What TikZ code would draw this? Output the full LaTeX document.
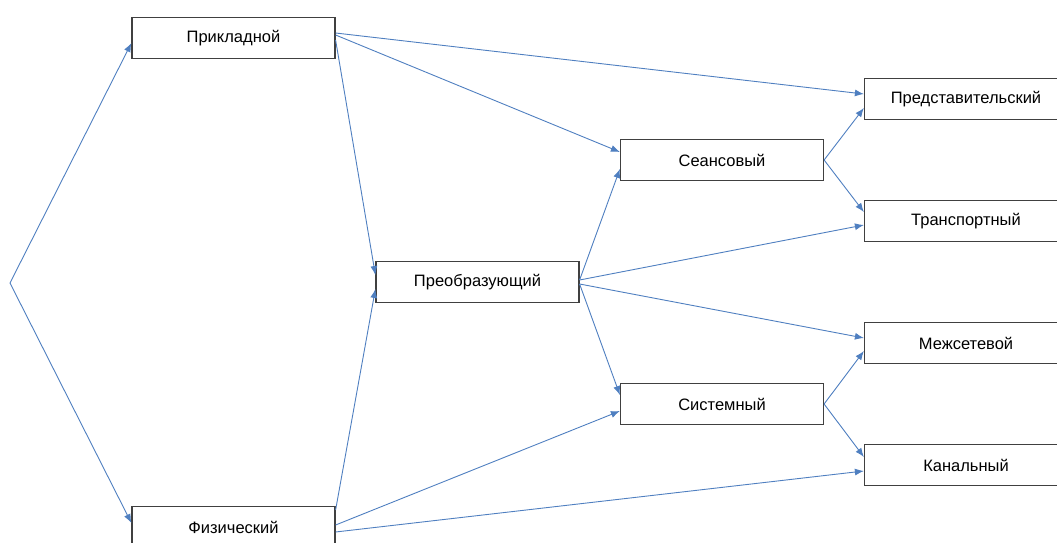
\documentclass[tikz,border=0pt]{standalone}
\usepackage{fontspec}
\setmainfont{Liberation Sans}
\usetikzlibrary{arrows.meta}
\definecolor{linkblue}{HTML}{4F7FC0}
\definecolor{boxgray}{HTML}{404040}

\begin{document}
\begin{tikzpicture}[x=1pt,y=-1pt]
		\tikzset{layer/.style={shape = rectangle, draw = boxgray, line width = 1.2pt, fill = white,
				minimum width = 203pt, minimum height = 41pt, inner sep = 0pt,
				font = \fontsize{16.5}{19}\selectfont}}
		\tikzset{edge/.style={-{Latex[length = 9pt, width = 7pt]}, draw = linkblue, line width = 0.9pt}}
		\useasboundingbox (0, 0) rectangle (1057, 543);
					%vertices
					\coordinate (root) at (10, 283);
					\node[layer] (prikl) at (233.5, 38) {Прикладной};
					\node[layer] (fiz) at (233.5, 527) {Физический};
					\node[layer] (preob) at (477.5, 282) {Преобразующий};
					\node[layer] (seans) at (722, 160) {Сеансовый};
					\node[layer] (sist) at (722, 404) {Системный};
					\node[layer] (pred) at (966, 99) {Представительский};
					\node[layer] (trans) at (966, 221) {Транспортный};
					\node[layer] (mezh) at (966, 343) {Межсетевой};
					\node[layer] (kan) at (966, 465) {Канальный};
					%edges
					\draw[edge] (root) -- ([yshift=-5pt]prikl.west);
					\draw[edge] (root) -- ([yshift=4pt]fiz.west);
					\draw[edge] ([yshift=5pt]prikl.east) -- ([yshift=5pt]pred.west);
					\draw[edge] ([yshift=3pt]prikl.east) -- ([yshift=8pt]seans.west);
					\draw[edge] ([yshift=-2pt]prikl.east) -- ([yshift=7pt]preob.west);
					\draw[edge] ([yshift=17pt]fiz.east) -- ([yshift=-7pt]preob.west);
					\draw[edge] ([yshift=2pt]fiz.east) -- ([yshift=-7pt]sist.west);
					\draw[edge] ([yshift=-5pt]fiz.east) -- ([yshift=-6pt]kan.west);
					\draw[edge] ([yshift=2pt]preob.east) -- ([yshift=-9pt]seans.west);
					\draw[edge] ([yshift=2pt]preob.east) -- ([yshift=-4pt]trans.west);
					\draw[edge] ([yshift=-2pt]preob.east) -- ([yshift=5pt]mezh.west);
					\draw[edge] ([yshift=-2pt]preob.east) -- ([yshift=9pt]sist.west);
					\draw[edge] (seans.east) -- ([yshift=-9pt]pred.west);
					\draw[edge] (seans.east) -- ([yshift=9pt]trans.west);
					\draw[edge] (sist.east) -- ([yshift=-8pt]mezh.west);
					\draw[edge] (sist.east) -- ([yshift=8pt]kan.west);
					
					\end{tikzpicture}
\end{document}
